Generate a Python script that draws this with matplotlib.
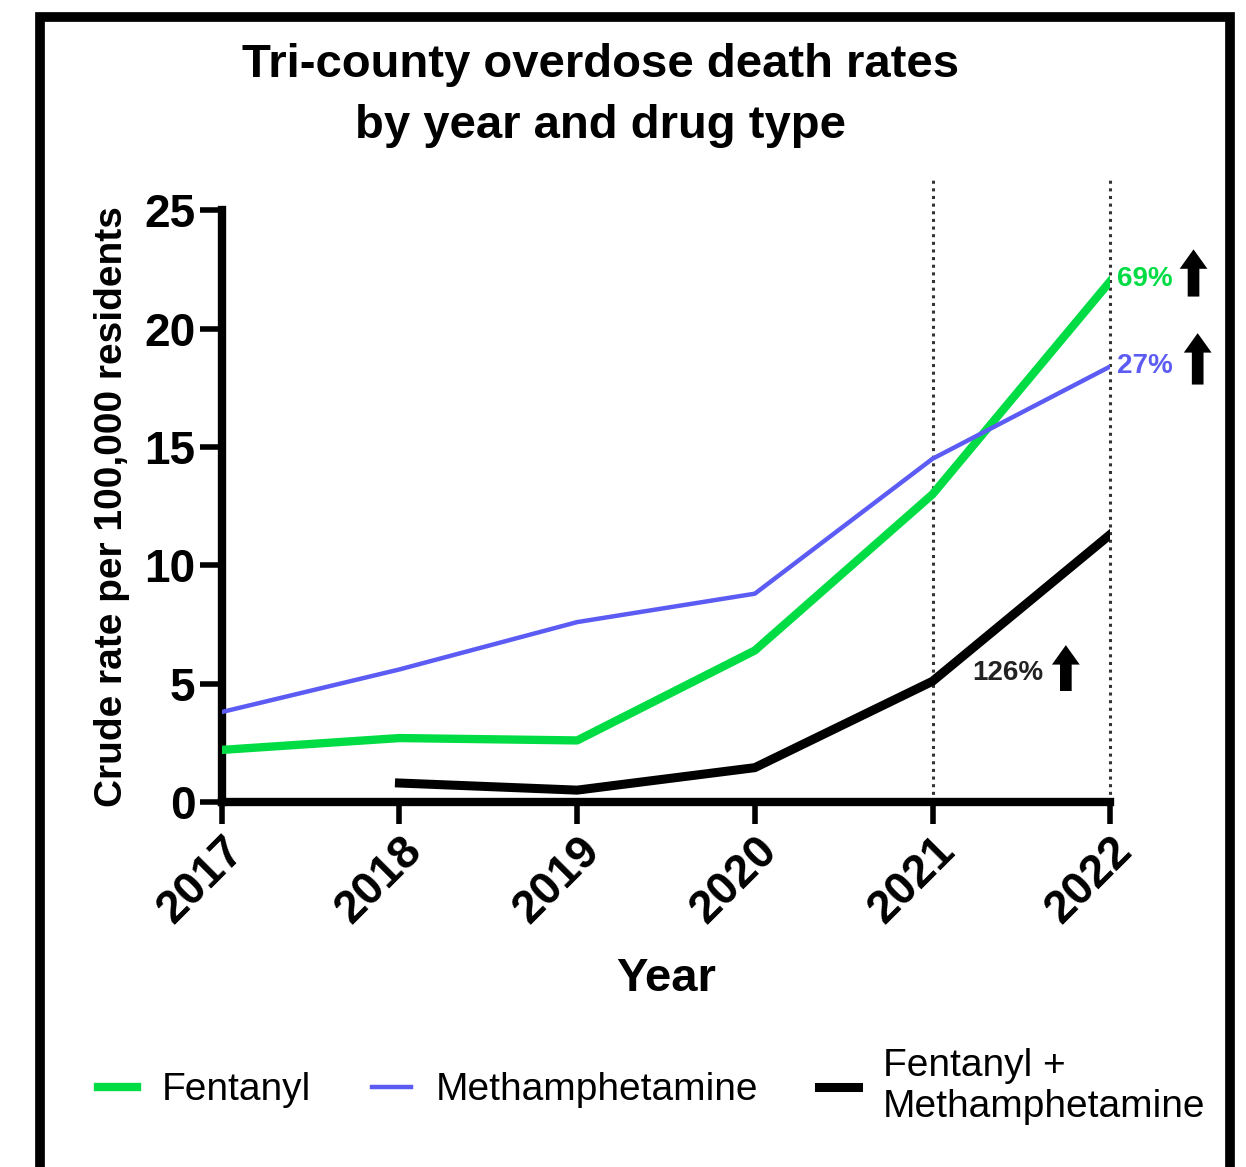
import matplotlib.pyplot as plt
from matplotlib.patches import Rectangle
from matplotlib.transforms import offset_copy

# data
years = [2017, 2018, 2019, 2020, 2021, 2022]
fentanyl = [2.2, 2.7, 2.6, 6.4, 13.0, 22.0]
meth = [3.8, 5.6, 7.6, 8.8, 14.5, 18.4]
combo_years = [2018, 2019, 2020, 2021, 2022]
combo = [0.8, 0.5, 1.45, 5.1, 11.3]
pct_labels = ["69%", "27%", "126%"]

green = "#00dd44"
blue = "#5c5cf5"

plt.rcParams['font.family'] = ['Liberation Sans', 'DejaVu Sans']

fig = plt.figure(figsize=(12.46, 11.67), dpi=100)
ax = fig.add_axes([0.178, 0.3128, 0.713, 0.507])

ax.plot(years, fentanyl, color=green, lw=6, label="Fentanyl", zorder=3)
ax.plot(years, meth, color=blue, lw=3.2, label="Methamphetamine", zorder=3)
ax.plot(combo_years, combo, color="black", lw=6.5, label="Fentanyl +\nMethamphetamine", zorder=3)

# dotted reference lines at 2021 and 2022
for yr in years[-2:]:
    ax.plot([yr, yr], [0, 26.3], color="#333333", lw=2.2, ls=(0, (1, 1.5)),
            clip_on=False, zorder=2)

ax.set_xlim(2017, 2022)
ax.set_ylim(0, 25)
ax.set_xticks(years)
ax.set_yticks([0, 5, 10, 15, 20, 25])
ax.spines['top'].set_visible(False)
ax.spines['right'].set_visible(False)
for s in ['left', 'bottom']:
    ax.spines[s].set_linewidth(6)
ax.tick_params(width=4, length=16, labelsize=33, direction='out', pad=3)
for lab in ax.get_xticklabels() + ax.get_yticklabels():
    lab.set_fontweight('bold')
plt.setp(ax.get_xticklabels(), rotation=45, ha='right', rotation_mode='anchor')

ax.set_xlabel("Year", fontsize=34, fontweight='bold', labelpad=18)
ax.set_ylabel("Crude rate per 100,000 residents", fontsize=28, fontweight='bold', labelpad=10)

# percent change labels with up arrows (offsets in points from the anchor point)
def pct_note(text, x, y, col, tdx, tdy, adx, ay0, ay1, ha='left'):
    ax.annotate(text, xy=(x, y), xytext=(tdx, tdy), textcoords='offset points',
                color=col, fontsize=20, fontweight='bold', va='center', ha=ha,
                annotation_clip=False, zorder=5)
    tail = offset_copy(ax.transData, fig=fig, x=adx, y=ay0, units='points')
    head = offset_copy(ax.transData, fig=fig, x=adx, y=ay1, units='points')
    ax.annotate("", xy=(x, y), xycoords=head, xytext=(x, y), textcoords=tail,
                arrowprops=dict(arrowstyle="simple,head_width=1.0,head_length=0.7,tail_width=0.42",
                                mutation_scale=20, color="black", lw=0,
                                shrinkA=0, shrinkB=0),
                annotation_clip=False, zorder=5)

pct_note(pct_labels[0], years[-1], fentanyl[-1], green, 5, 2, 60, -11, 23)
pct_note(pct_labels[1], years[-1], meth[-1], blue, 5, 0, 63, -13, 24)
pct_note(pct_labels[2], combo_years[-2], combo[-2], "#222222", 54, 6, 96, -7, 26, ha='center')

# title
fig.text(0.482, 0.918, "Tri-county overdose death rates\nby year and drug type",
         ha='center', va='center', fontsize=34, fontweight='bold', linespacing=1.5)

# legend
fig.legend(loc='center', bbox_to_anchor=(0.523, 0.069), ncol=3, frameon=False,
           fontsize=28, handlelength=1.0, handletextpad=0.65, columnspacing=1.55)

# outer frame
fig.patches.append(Rectangle((40 / 1246, -0.05), (1230 - 40) / 1246, 1.05 - 17 / 1167,
                             transform=fig.transFigure, fill=False, lw=7,
                             edgecolor='black', clip_on=False))

fig.savefig("out.png", dpi=100)
